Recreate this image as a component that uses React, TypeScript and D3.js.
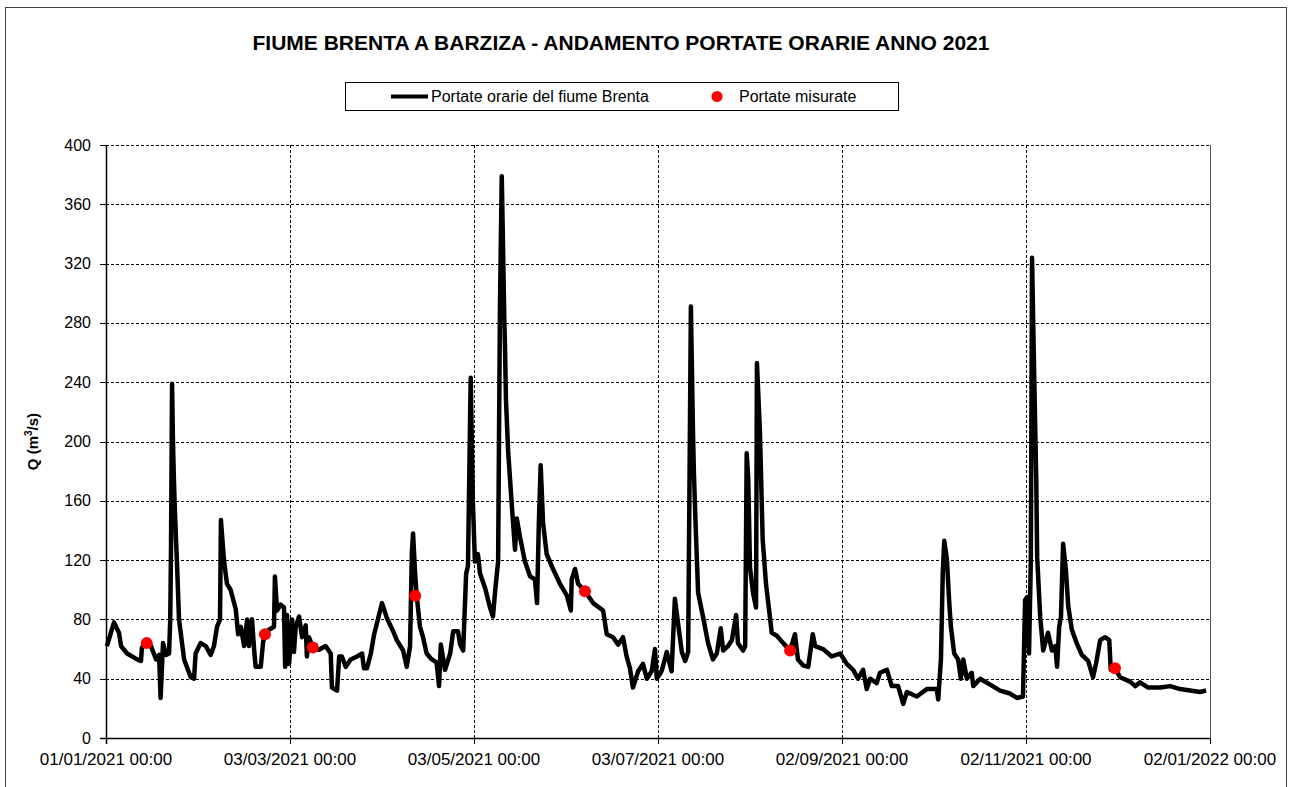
import * as d3 from "d3";

// hourly discharge (days since 01/01/2021, m3/s)
const hourDays = [
  0.3, 2.65, 4.3, 5.0, 7.0, 10.3, 11.6, 11.9, 13.6, 14.9,
  16.6, 17.6, 18.1, 18.9, 19.9, 20.9, 21.3, 21.55, 21.9, 22.2,
  22.5, 22.9, 23.2, 23.5, 24.2, 25.9, 28.1, 29.2, 29.7, 31.4,
  33.1, 34.7, 35.8, 36.8, 37.8, 38.1, 39.1, 40.1, 41.3, 43.0,
  43.8, 44.7, 45.8, 46.8, 47.4, 48.0, 48.4, 49.1, 49.6, 51.3,
  52.1, 52.7, 54.0, 55.7, 56.0, 56.7, 57.9, 59.0, 59.4, 60.0,
  60.7, 61.7, 62.3, 62.9, 64.0, 65.0, 66.2, 66.6, 67.3, 68.6,
  70.6, 72.8, 74.5, 74.9, 76.6, 77.3, 78.2, 79.5, 81.1, 83.2,
  84.9, 85.5, 86.5, 87.8, 88.9, 90.5, 91.5, 93.1, 95.2, 96.4,
  98.5, 99.7, 100.8, 101.4, 101.8, 102.5, 103.0, 104.1, 105.1, 106.3,
  108.0, 109.6, 110.4, 111.0, 112.4, 114.1, 115.1, 116.7, 117.4, 118.4,
  119.4, 120.0, 120.9, 121.6, 122.3, 123.3, 124.0, 125.7, 127.3, 128.3,
  129.0, 130.0, 130.6, 131.2, 131.6, 132.0, 132.3, 132.6, 133.3, 134.5,
  135.6, 136.2, 137.3, 138.9, 140.6, 142.2, 142.9, 143.5, 144.1, 144.9,
  146.1, 148.2, 150.5, 152.8, 154.1, 154.4, 155.5, 156.5, 158.8, 161.5,
  164.8, 166.0, 168.1, 169.8, 171.4, 172.6, 173.7, 174.7, 176.4, 178.0,
  179.3, 180.9, 182.0, 182.6, 184.2, 185.9, 187.5, 188.6, 189.6, 190.9,
  192.0, 193.0, 193.9, 194.6, 194.9, 195.5, 196.3, 197.9, 199.6, 201.2,
  202.5, 203.8, 204.6, 206.2, 207.5, 208.9, 209.5, 211.2, 211.9, 212.4,
  212.9, 213.5, 214.5, 215.5, 215.8, 216.8, 217.7, 218.8, 220.2, 220.7,
  222.4, 224.5, 226.8, 228.4, 229.4, 231.1, 232.8, 234.3, 235.1, 237.7,
  240.6, 243.4, 245.6, 247.7, 249.3, 251.0, 252.2, 253.3, 255.5, 256.6,
  258.9, 260.5, 262.6, 264.3, 265.5, 268.8, 272.1, 275.4, 275.9, 276.8,
  277.4, 277.9, 278.8, 279.5, 280.1, 281.2, 282.5, 283.4, 284.2, 285.4,
  287.0, 287.5, 289.8, 293.1, 296.4, 299.7, 302.0, 304.0, 304.7, 305.4,
  306.0, 306.6, 307.0, 307.7, 308.4, 308.7, 309.7, 310.7, 312.3, 313.6,
  314.7, 315.3, 316.0, 316.6, 317.3, 318.2, 319.0, 320.2, 321.8, 323.5,
  325.6, 327.2, 328.2, 329.6, 331.2, 332.6, 333.1, 334.5, 336.2, 339.5,
  341.2, 342.8, 345.5, 349.5, 352.8, 356.1, 359.4, 362.7, 364.7,
];

const hourFlow = [
  62, 78, 71, 62, 57, 53, 52, 61, 64, 62,
  53, 56, 27, 64, 56, 57, 80, 127, 239, 200,
  175, 150, 134, 120, 80, 53, 41, 40, 57, 64,
  62, 56, 62, 75, 80, 147, 120, 104, 100, 87,
  70, 75, 62, 80, 62, 78, 80, 60, 48, 48,
  65, 70, 73, 75, 109, 86, 90, 88, 48, 83,
  50, 80, 58, 75, 82, 68, 76, 55, 68, 61,
  59.5, 62, 57, 34, 32, 55, 55, 48, 53, 55,
  57, 47, 47, 57, 70, 83, 91, 81, 72, 66,
  59, 48, 62, 125, 138, 110, 96, 75, 68, 57,
  53, 51, 35, 63, 46, 57, 72, 72, 63, 59,
  111, 116, 243, 161, 119, 124, 111, 101, 88, 82,
  99, 119, 290, 379, 334, 287, 261, 228, 194, 158,
  127, 148, 135, 119, 109, 107, 91, 145, 184, 145,
  124, 114, 104, 96, 86, 107, 114, 104, 99, 91,
  86, 70, 68, 63, 68, 55, 47, 34, 45, 50,
  40, 45, 60, 40, 45, 58, 45, 94, 78, 58,
  52, 58, 291, 206, 179, 142, 98, 82, 64, 53,
  57, 74, 59, 62, 66, 83, 64, 59, 62, 192,
  176, 115, 98, 88, 253, 206, 134, 104, 80, 71,
  69, 64, 59, 70, 53, 49, 48, 70, 62, 60,
  55, 57, 50, 46, 40, 46, 33, 40, 37, 44,
  46, 35, 35, 23, 31, 28, 33, 33, 26, 53,
  111, 133, 120, 93, 75, 57, 53, 40, 53, 40,
  44, 35, 40, 36, 32, 30, 27, 28, 93, 95,
  57, 120, 324, 246, 174, 122, 82, 59, 71, 59,
  62, 48, 75, 82, 131, 114, 89, 73, 64, 56,
  52, 41, 50, 66, 68, 66, 46, 47, 41, 38,
  35, 37.5, 34, 34, 35, 33, 32, 31, 32,
];

// measured discharges (red dots)
const measDays = [13.5, 52.7, 68.6, 102.5, 158.8, 226.8, 334.5];
const measFlow = [64, 70, 61, 96, 99, 59, 47];

const xTickDays = [0, 61, 122, 183, 244, 305, 366];
const xTickLabels = [
  "01/01/2021 00:00",
  "03/03/2021 00:00",
  "03/05/2021 00:00",
  "03/07/2021 00:00",
  "02/09/2021 00:00",
  "02/11/2021 00:00",
  "02/01/2022 00:00",
];
const yTickValues = [0, 40, 80, 120, 160, 200, 240, 280, 320, 360, 400];

const title = "FIUME BRENTA A BARZIZA - ANDAMENTO PORTATE ORARIE ANNO 2021";
const lineLabel = "Portate orarie del fiume Brenta";
const dotLabel = "Portate misurate";

const width = 1289;
const height = 787;
const margin = { top: 145, right: 79, bottom: 49, left: 106 };
const font = "Liberation Sans, Arial, sans-serif";

export default function App() {
  const x = d3
    .scaleLinear()
    .domain([0, 366])
    .range([margin.left, width - margin.right]);
  const y = d3
    .scaleLinear()
    .domain([0, 400])
    .range([height - margin.bottom, margin.top]);

  const n = Math.min(hourDays.length, hourFlow.length);
  const pts: [number, number][] = [];
  for (let i = 0; i < n; i++) pts.push([hourDays[i], hourFlow[i]]);

  const line = d3
    .line<[number, number]>()
    .x((d) => x(d[0]))
    .y((d) => y(d[1]));

  const x0 = x(0);
  const x1 = x(366);
  const y0 = y(0);
  const yTop = y(400);

  return (
    <svg
      width={width}
      height={height}
      style={{ position: "absolute", left: 0, top: 0, background: "#fff" }}
      fontFamily={font}
    >
      <rect x={5.5} y={7.5} width={1281} height={800} fill="#fff" stroke="#444" strokeWidth={1} />

      <text x={621} y={50} textAnchor="middle" fontSize={21} fontWeight="bold">
        {title}
      </text>

      {/* legend */}
      <rect x={345.5} y={82.5} width={553} height={28} fill="#fff" stroke="#000" strokeWidth={1} />
      <line x1={391} x2={428} y1={96.5} y2={96.5} stroke="#000" strokeWidth={4} />
      <text x={431} y={102} fontSize={16}>{lineLabel}</text>
      <circle cx={717} cy={96.5} r={5.5} fill="#ff0000" />
      <text x={739} y={102} fontSize={16}>{dotLabel}</text>

      {/* grid */}
      {yTickValues.slice(1).map((v) => (
        <line
          key={"gy" + v}
          x1={x0}
          x2={x1}
          y1={Math.round(y(v)) + 0.5}
          y2={Math.round(y(v)) + 0.5}
          stroke="#000"
          strokeWidth={1}
          strokeDasharray="3,2"
        />
      ))}
      {xTickDays.slice(1, -1).map((d) => (
        <line
          key={"gx" + d}
          x1={Math.round(x(d)) + 0.5}
          x2={Math.round(x(d)) + 0.5}
          y1={yTop}
          y2={y0}
          stroke="#000"
          strokeWidth={1}
          strokeDasharray="3,2"
        />
      ))}
      <line x1={x1 + 0.5} x2={x1 + 0.5} y1={yTop} y2={y0} stroke="#555" strokeWidth={1} />

      {/* series */}
      <path d={line(pts) || ""} fill="none" stroke="#000" strokeWidth={4.5} strokeLinejoin="round" />
      {measDays.map((d, i) => (
        <circle key={"m" + i} cx={x(d)} cy={y(measFlow[i])} r={6} fill="#ff0000" />
      ))}

      {/* axes */}
      <line x1={x0 + 0.5} x2={x0 + 0.5} y1={yTop} y2={y0 + 6} stroke="#000" strokeWidth={1.5} />
      <line x1={x0 - 6} x2={x1} y1={y0 + 0.5} y2={y0 + 0.5} stroke="#000" strokeWidth={1.5} />
      {yTickValues.map((v) => (
        <g key={"ty" + v}>
          <line
            x1={x0 - 6}
            x2={x0}
            y1={Math.round(y(v)) + 0.5}
            y2={Math.round(y(v)) + 0.5}
            stroke="#000"
          />
          <text x={91} y={y(v) + 5.5} textAnchor="end" fontSize={16}>
            {v}
          </text>
        </g>
      ))}
      {xTickDays.map((d, i) => (
        <g key={"tx" + d}>
          <line
            x1={Math.round(x(d)) + 0.5}
            x2={Math.round(x(d)) + 0.5}
            y1={y0}
            y2={y0 + 6}
            stroke="#000"
          />
          <text x={x(d)} y={765} textAnchor="middle" fontSize={17}>
            {xTickLabels[i]}
          </text>
        </g>
      ))}

      <text
        transform={`translate(38,${(yTop + y0) / 2}) rotate(-90)`}
        textAnchor="middle"
        fontSize={15}
        fontWeight="bold"
      >
        Q (m<tspan fontSize={10} dy={-6}>3</tspan>
        <tspan dy={6}>/s)</tspan>
      </text>
    </svg>
  );
}
